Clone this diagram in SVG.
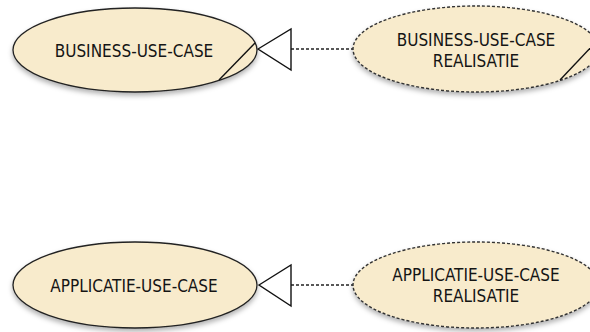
<svg xmlns="http://www.w3.org/2000/svg" width="590" height="332" viewBox="0 0 590 332">
<defs>
<filter id="sh" x="-10%" y="-20%" width="120%" height="150%">
<feDropShadow dx="0" dy="3" stdDeviation="2.5" flood-color="#000" flood-opacity="0.3"/>
</filter>
<style>
.uc{fill:#F8EBCC;stroke:#222;stroke-width:1.3;filter:url(#sh)}
.re{fill:#F8EBCC;stroke:#333;stroke-width:1.4;stroke-dasharray:3 2;filter:url(#sh)}
.diag{stroke:#111;stroke-width:1.4;fill:none}
.lbl{font-family:"DejaVu Sans Condensed","DejaVu Sans",sans-serif;font-stretch:condensed;font-size:17px;fill:#151515;text-anchor:middle}
.con{stroke:#222;stroke-width:1.3;stroke-dasharray:3 2;fill:none}
.tri{fill:#fff;stroke:#111;stroke-width:1.4}
</style>
</defs>
<g id="connectors">
<line class="con" x1="291" y1="49" x2="354" y2="49"/>
<polygon class="tri" points="258,49 291,29 291,70"/>
<line class="con" x1="291" y1="285" x2="354" y2="285"/>
<polygon class="tri" points="259,285 291,265 291,306"/>
</g>
<g id="business-use-case">
<ellipse class="uc" cx="135" cy="50" rx="122" ry="42"/>
<line class="diag" x1="255" y1="43" x2="219" y2="80"/>
<text class="lbl" x="134" y="57">BUSINESS-USE-CASE</text>
</g>
<g id="business-use-case-realisatie">
<ellipse class="re" cx="476" cy="49" rx="123" ry="43"/>
<line class="diag" x1="596" y1="42" x2="560" y2="80"/>
<text class="lbl" x="476" y="46">BUSINESS-USE-CASE</text>
<text class="lbl" x="476" y="67">REALISATIE</text>
</g>
<g id="applicatie-use-case">
<ellipse class="uc" cx="135" cy="285" rx="122" ry="43"/>
<text class="lbl" x="134" y="292">APPLICATIE-USE-CASE</text>
</g>
<g id="applicatie-use-case-realisatie">
<ellipse class="re" cx="476" cy="285" rx="123" ry="43"/>
<text class="lbl" x="476" y="281">APPLICATIE-USE-CASE</text>
<text class="lbl" x="476" y="302">REALISATIE</text>
</g>
</svg>
